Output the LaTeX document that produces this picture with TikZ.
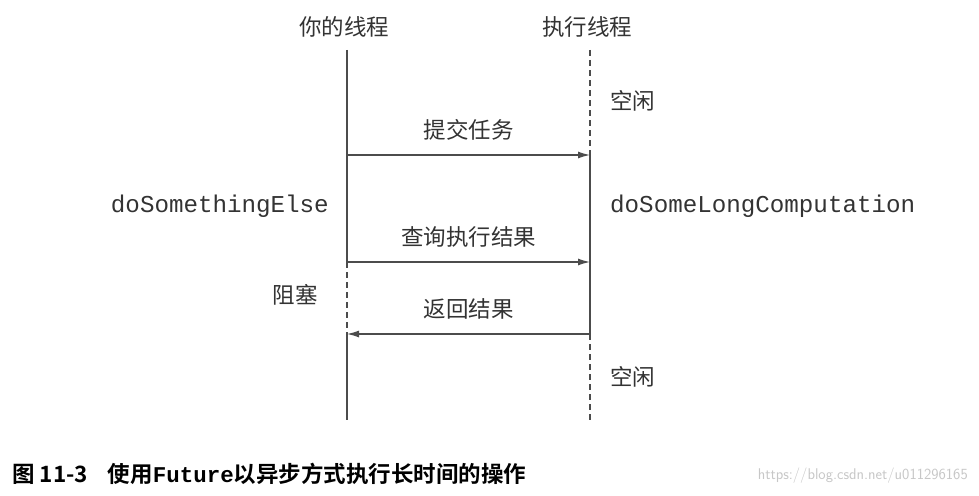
\documentclass[tikz,border=0pt]{standalone}
\usepackage{fontspec}
\setmainfont{Noto Sans CJK SC}
\setmonofont{Liberation Mono}
\newfontfamily\cjkb[BoldFont={Noto Sans CJK SC Bold}]{Noto Sans CJK SC}
\usetikzlibrary{arrows.meta}
\begin{document}
\begin{tikzpicture}[x=1pt,y=-1pt,
  lbl/.style={font=\fontsize{22.5}{24}\selectfont,text=black!80,inner sep=0},
  code/.style={font=\ttfamily\fontsize{24.2}{25}\selectfont,text=black!80,inner sep=0},
  life/.style={draw=black!70,line width=1.2pt},
  idle/.style={draw=black!70,line width=1.2pt,dash pattern=on 6pt off 4pt},
  msg/.style={draw=black!70,line width=1.2pt,-{Latex[length=12pt,width=7pt]}}]
\useasboundingbox (0,0) rectangle (979,495);
\node[lbl] (t1) at (344,27) {你的线程};
\node[lbl] (t2) at (587,27) {执行线程};
\coordinate (l0) at (347,50); \coordinate (l1) at (347,155); \coordinate (l2) at (347,262);
\coordinate (l3) at (347,334); \coordinate (l4) at (347,420);
\coordinate (r0) at (590,50); \coordinate (r1) at (590,155); \coordinate (r2) at (590,262);
\coordinate (r3) at (590,334); \coordinate (r4) at (590,420);
\draw[life] (l0) -- (l2);
\draw[idle] (l2) -- (l3);
\draw[life] (l3) -- (l4);
\draw[idle] (r0) -- (r1);
\draw[life] (r1) -- (r3);
\draw[idle] (r3) -- (r4);
\draw[msg] (l1) -- node[lbl,above=14pt] (m1) {提交任务} (r1);
\draw[msg] (l2) -- node[lbl,above=14pt] (m2) {查询执行结果} (r2);
\draw[msg] (r3) -- node[lbl,above=14pt] (m3) {返回结果} (l3);
\node[lbl,anchor=west] (i1) at (610,101) {空闲};
\node[lbl,anchor=west] (i2) at (610,377) {空闲};
\node[lbl,anchor=east] (b) at (318,295) {阻塞};
\node[code,anchor=east] (c1) at (329,206) {doSomethingElse};
\node[code,anchor=west] (c2) at (610,206) {doSomeLongComputation};
\node[anchor=west,inner sep=0,font=\cjkb\bfseries\fontsize{22.5}{24}\selectfont] (cap) at (12,474)
  {图 11-3\hspace{20pt}使用{\ttfamily Future}以异步方式执行长时间的操作};
\node[anchor=east,inner sep=0,text=black!22,font=\sffamily\fontsize{15.5}{16}\selectfont] (wm) at (968,476) {https://blog.csdn.net/u011296165};
\end{tikzpicture}
\end{document}
